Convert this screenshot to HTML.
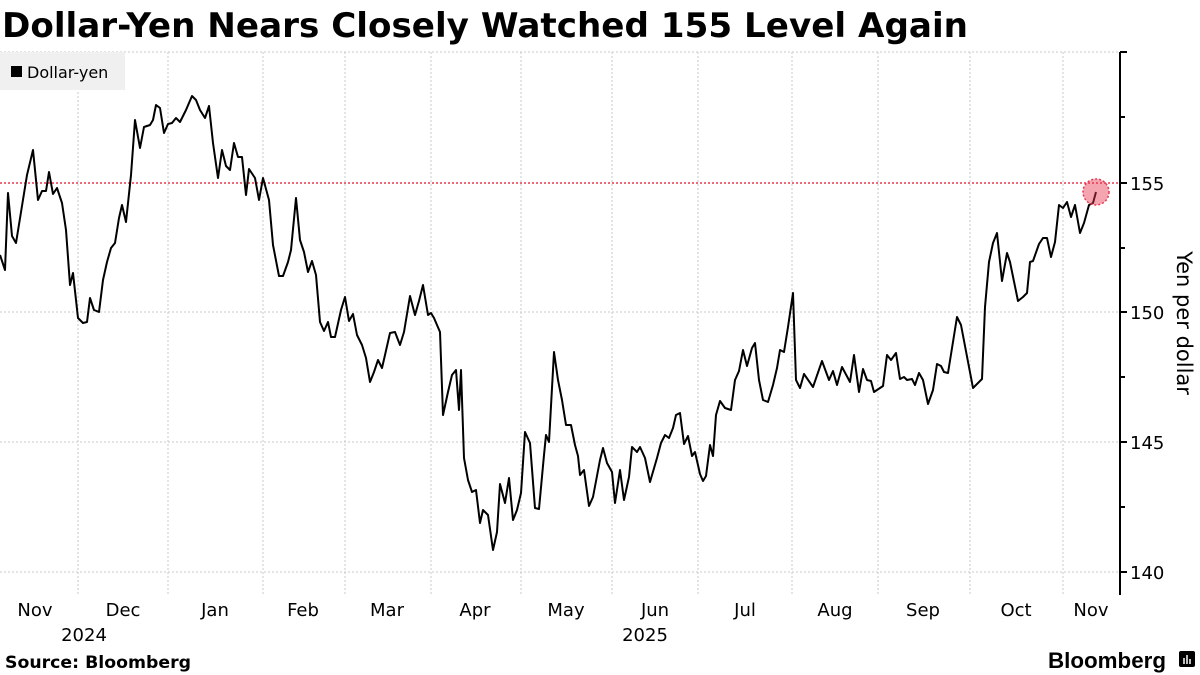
<!DOCTYPE html>
<html><head><meta charset="utf-8"><style>
html,body{margin:0;padding:0;background:#fff;width:1200px;height:675px;overflow:hidden}
svg{display:block}
text{font-family:"DejaVu Sans","Liberation Sans",sans-serif;fill:#000}
</style></head><body>
<svg width="1200" height="675" viewBox="0 0 1200 675" xmlns="http://www.w3.org/2000/svg">
<text x="2" y="37" font-size="34" font-weight="bold" textLength="966" lengthAdjust="spacingAndGlyphs">Dollar-Yen Nears Closely Watched 155 Level Again</text>
<g stroke="#c8c8c8" stroke-width="1" stroke-dasharray="2,2" fill="none">
<line x1="0" y1="52" x2="1120" y2="52"/>
<line x1="0" y1="312" x2="1120" y2="312"/>
<line x1="0" y1="442" x2="1120" y2="442"/>
<line x1="0" y1="572" x2="1120" y2="572"/>
<line x1="78" y1="52" x2="78" y2="594"/>
<line x1="168" y1="52" x2="168" y2="594"/>
<line x1="263" y1="52" x2="263" y2="594"/>
<line x1="345" y1="52" x2="345" y2="594"/>
<line x1="431" y1="52" x2="431" y2="594"/>
<line x1="521" y1="52" x2="521" y2="594"/>
<line x1="612" y1="52" x2="612" y2="594"/>
<line x1="698" y1="52" x2="698" y2="594"/>
<line x1="792" y1="52" x2="792" y2="594"/>
<line x1="878" y1="52" x2="878" y2="594"/>
<line x1="970" y1="52" x2="970" y2="594"/>
<line x1="1063" y1="52" x2="1063" y2="594"/>
</g>
<line x1="0" y1="183" x2="1120" y2="183" stroke="#e8384f" stroke-width="1.5" stroke-dasharray="2,2"/>
<rect x="0" y="52" width="125" height="38" fill="#f0f0f0"/>
<rect x="11" y="66" width="11" height="11" fill="#000"/>
<text x="27" y="78" font-size="16">Dollar-yen</text>
<polyline fill="none" stroke="#000" stroke-width="2" stroke-linejoin="round" points="0,255 5,270 8,193 12,236 16,243 27,175 33,150 38,200 42,191 46,191 49,172 53,194 57,188 62,203 66,230 70,285 73,273 78,318 83,323 87,322 90,298 94,310 99,312 103,280 107,262 111,248 115,243 119,218 122,205 126,222 131,175 135,120 140,148 144,127 150,125 153,120 156,105 160,108 164,133 168,124 172,123 176,118 180,122 186,110 192,96 196,100 200,110 205,118 209,106 213,143 218,178 222,150 226,166 230,170 234,143 238,157 242,157 246,195 249,169 255,178 259,200 263,178 269,200 273,245 279,276 283,276 288,262 291,250 296,198 300,240 304,252 308,272 312,261 316,275 320,322 324,331 328,322 331,337 335,337 341,310 345,297 349,321 353,314 357,335 362,345 366,358 370,382 374,372 378,360 382,368 385,355 390,333 395,332 400,345 404,332 410,296 415,315 419,301 423,285 428,315 431,313 434,318 440,332 443,415 448,392 452,375 456,370 459,410 461,370 464,458 468,480 472,492 476,490 480,523 483,510 488,515 493,550 497,532 500,484 505,503 509,478 513,520 517,510 521,493 525,432 530,443 535,508 539,509 544,455 546,435 549,442 554,352 558,380 562,400 566,425 571,425 575,445 578,456 580,475 584,470 589,506 593,497 600,460 603,448 607,463 612,472 615,503 620,470 624,500 629,477 632,447 637,452 640,447 645,458 650,482 657,458 661,443 665,435 669,438 673,428 676,415 680,413 684,444 688,436 692,456 695,452 700,474 703,481 706,476 710,445 713,456 716,415 720,401 725,408 731,410 735,380 739,371 743,350 747,366 752,348 755,343 759,380 763,400 768,402 773,385 777,368 780,350 784,352 788,327 793,293 796,380 800,388 804,374 813,387 822,361 829,380 833,371 837,385 842,367 850,382 854,355 859,392 863,369 867,380 871,381 874,392 883,386 887,355 891,360 896,353 900,379 904,377 907,380 912,379 915,385 919,373 923,380 928,404 933,390 937,364 941,366 944,372 948,373 957,317 961,325 973,388 982,379 985,307 989,262 993,243 997,233 1002,281 1007,253 1010,262 1018,301 1023,297 1027,293 1030,262 1033,261 1039,244 1043,238 1047,238 1051,257 1055,242 1059,205 1063,208 1067,202 1071,217 1075,205 1080,233 1084,223 1089,205 1093,203 1096,192"/>
<circle cx="1096" cy="192" r="13" fill="#e8384f" fill-opacity="0.45" stroke="#e8384f" stroke-width="1.5" stroke-dasharray="2,2"/>
<g stroke="#000" stroke-width="2">
<line x1="1120" y1="52" x2="1120" y2="595"/>
<line x1="1120" y1="52" x2="1127" y2="52"/>
<line x1="1120" y1="117" x2="1125" y2="117"/>
<line x1="1120" y1="183" x2="1127" y2="183"/>
<line x1="1120" y1="248" x2="1125" y2="248"/>
<line x1="1120" y1="312" x2="1127" y2="312"/>
<line x1="1120" y1="377" x2="1125" y2="377"/>
<line x1="1120" y1="442" x2="1127" y2="442"/>
<line x1="1120" y1="507" x2="1125" y2="507"/>
<line x1="1120" y1="572" x2="1127" y2="572"/>
</g>
<g font-size="18">
<text x="1130" y="190">155</text>
<text x="1130" y="319">150</text>
<text x="1130" y="449">145</text>
<text x="1130" y="579">140</text>
</g>
<text transform="translate(1177,323) rotate(90)" font-size="21" text-anchor="middle">Yen per dollar</text>
<g font-size="18" text-anchor="middle">
<text x="35" y="616">Nov</text>
<text x="123" y="616">Dec</text>
<text x="215" y="616">Jan</text>
<text x="303" y="616">Feb</text>
<text x="387" y="616">Mar</text>
<text x="475" y="616">Apr</text>
<text x="566" y="616">May</text>
<text x="655" y="616">Jun</text>
<text x="745" y="616">Jul</text>
<text x="835" y="616">Aug</text>
<text x="923" y="616">Sep</text>
<text x="1016" y="616">Oct</text>
<text x="1091" y="616">Nov</text>
<text x="84" y="641">2024</text>
<text x="645" y="641">2025</text>
</g>
<text x="5" y="668" font-size="17" font-weight="bold" textLength="186" lengthAdjust="spacingAndGlyphs">Source: Bloomberg</text>
<text x="1048" y="668" font-size="22" font-weight="bold" textLength="118" lengthAdjust="spacingAndGlyphs" style="font-family:'Liberation Sans',sans-serif">Bloomberg</text>
<rect x="1179" y="651" width="16" height="16" rx="2" fill="#000"/>
<g stroke="#fff" stroke-width="1.5"><line x1="1184" y1="658" x2="1184" y2="664"/><line x1="1187" y1="655" x2="1187" y2="664"/><line x1="1190" y1="659" x2="1190" y2="664"/></g>
</svg>
</body></html>
